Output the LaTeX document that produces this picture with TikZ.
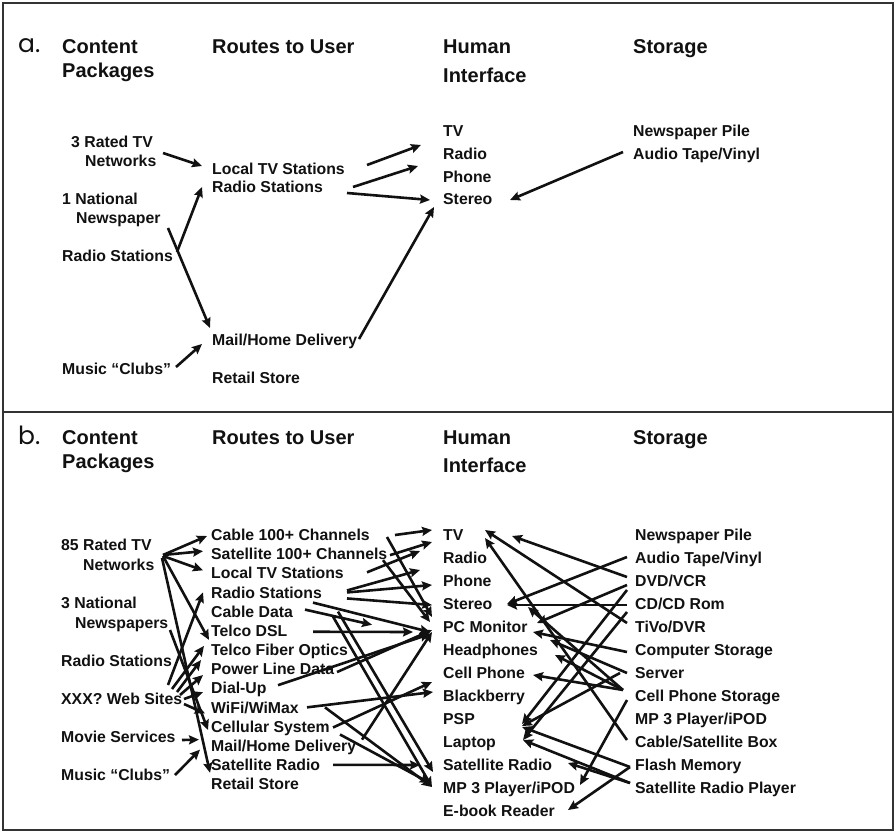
\documentclass[tikz,border=0pt]{standalone}
\usepackage{fontspec}
\setmainfont{Liberation Sans}
\newfontfamily\tagfont{Poppins}
\usetikzlibrary{arrows.meta}
\definecolor{ink}{HTML}{111111}
\definecolor{rule}{HTML}{333333}

% arrow between two node anchors, each with an offset
\newcommand\linkarrow[4]{\draw[arr] ([shift={#2}]#1.west) -- ([shift={#4}]#3.west);}

\begin{document}
\begin{tikzpicture}[x=1pt,y=-1pt,
  hd/.style={anchor=west, inner sep=0pt, text=ink,
    font=\bfseries\fontsize{20}{24}\selectfont, text height=14.3pt, text depth=0pt},
  it/.style={anchor=west, inner sep=0pt, text=ink,
    font=\bfseries\fontsize{15.8}{19}\selectfont, text height=11.3pt, text depth=0pt},
  tag/.style={anchor=base west, inner sep=0pt, text=ink,
    font=\tagfont\fontsize{25}{28}\selectfont},
  arr/.style={draw=ink, line width=2.6pt,
    -{Stealth[length=10pt,width=9pt,inset=1.5pt]}},
  panel/.style={draw=rule, line width=1.6pt}]

\useasboundingbox (0,0) rectangle (896,832);
\fill[white] (0,0) rectangle (896,832);

% panels
\draw[panel] (3,3) rectangle (893,830);
\draw[panel] (3,412) -- (893,412);

% ---------------- panel a ----------------
\node[tag] (tagA) at (18,53) {a.};
\node[hd] (aH1) at (62,46) {Content};
\node[hd] (aH1b) at (62,70) {Packages};
\node[hd] (aH2) at (212,46) {Routes to User};
\node[hd] (aH3) at (443,46) {Human};
\node[hd] (aH3b) at (443,75) {Interface};
\node[hd] (aH4) at (633,46) {Storage};

\node[it] (aNet1) at (71,142) {3 Rated TV};
\node[it] (aNet2) at (85,161) {Networks};
\node[it] (aNews1) at (62,199) {1 National};
\node[it] (aNews2) at (76,218) {Newspaper};
\node[it] (aRad) at (62,256) {Radio Stations};
\node[it] (aMus) at (62,369) {Music “Clubs”};

\node[it] (aLoc) at (212,169) {Local TV Stations};
\node[it] (aRadR) at (212,187) {Radio Stations};
\node[it] (aMail) at (212,340) {Mail/Home Delivery};
\node[it] (aRet) at (212,378) {Retail Store};

\node[it] (aTV) at (443,131) {TV};
\node[it] (aRadio) at (443,154) {Radio};
\node[it] (aPhone) at (443,177) {Phone};
\node[it] (aSter) at (443,199) {Stereo};

\node[it] (aPile) at (633,131) {Newspaper Pile};
\node[it] (aTape) at (633,154) {Audio Tape/Vinyl};

\linkarrow{aNet2}{(78,-8)}{aLoc}{(-10,-3)}
\linkarrow{aRad}{(115,-4)}{aRadR}{(-10,0)}
\linkarrow{aNews2}{(92,10)}{aMail}{(-2,-12)}
\linkarrow{aMus}{(114,-2)}{aMail}{(-10,4)}
\linkarrow{aLoc}{(155,-4)}{aRadio}{(-22,-9)}
\linkarrow{aRadR}{(141,0)}{aPhone}{(-25,-11)}
\linkarrow{aRadR}{(135,6)}{aSter}{(-13,1)}
\linkarrow{aMail}{(147,-1)}{aSter}{(-9,8)}
\linkarrow{aTape}{(-10,-2)}{aSter}{(67,1)}

% ---------------- panel b ----------------
\node[tag] (tagB) at (18,444) {b.};
\node[hd] (bH1) at (62,437) {Content};
\node[hd] (bH1b) at (62,461) {Packages};
\node[hd] (bH2) at (212,437) {Routes to User};
\node[hd] (bH3) at (443,437) {Human};
\node[hd] (bH3b) at (443,465) {Interface};
\node[hd] (bH4) at (633,437) {Storage};

\node[it] (bNet1) at (61,545) {85 Rated TV};
\node[it] (bNet2) at (83,565) {Networks};
\node[it] (bNews1) at (61,603) {3 National};
\node[it] (bNews2) at (75,623) {Newspapers};
\node[it] (bRad) at (61,661) {Radio Stations};
\node[it] (bWeb) at (61,699) {XXX? Web Sites};
\node[it] (bMov) at (61,737) {Movie Services};
\node[it] (bMus) at (61,775) {Music “Clubs”};

\foreach \t [count=\i] in {Cable 100+ Channels, Satellite 100+ Channels,
    Local TV Stations, Radio Stations, Cable Data, Telco DSL,
    Telco Fiber Optics, Power Line Data, Dial-Up, WiFi/WiMax,
    Cellular System, Mail/Home Delivery, Satellite Radio, Retail Store}
  \node[it] (bR\i) at (211,{535+19.15*(\i-1)}) {\t};

\foreach \t [count=\i] in {TV, Radio, Phone, Stereo, PC Monitor, Headphones,
    Cell Phone, Blackberry, PSP, Laptop, Satellite Radio,
    MP 3 Player/iPOD, E-book Reader}
  \node[it] (bI\i) at (443,{535+23*(\i-1)}) {\t};

\foreach \t [count=\i] in {Newspaper Pile, Audio Tape/Vinyl, DVD/VCR,
    CD/CD Rom, TiVo/DVR, Computer Storage, Server, Cell Phone Storage,
    MP 3 Player/iPOD, Cable/Satellite Box, Flash Memory,
    Satellite Radio Player}
  \node[it] (bS\i) at (635,{535+23*(\i-1)}) {\t};

% content packages to routes
\linkarrow{bNet2}{(80,-10)}{bR1}{(-4,1)}
\linkarrow{bNet2}{(80,-10)}{bR2}{(-8,-3)}
\linkarrow{bNet2}{(80,-9)}{bR3}{(-8,-3)}
\linkarrow{bNet2}{(80,-9)}{bR7}{(-2,-10)}
\linkarrow{bNet2}{(79,-7)}{bR13}{(-1,8)}
\linkarrow{bNews2}{(95,7)}{bR11}{(-3,3.5)}
\linkarrow{bRad}{(107,24)}{bR4}{(-8,0)}
\linkarrow{bRad}{(111,28)}{bR7}{(-7,-4)}
\linkarrow{bWeb}{(116,-7)}{bR8}{(-10,-9)}
\linkarrow{bWeb}{(119,-4)}{bR8}{(-8,6)}
\linkarrow{bWeb}{(123,0)}{bR9}{(-8,4)}
\linkarrow{bWeb}{(123,5)}{bR10}{(-6,6)}
\linkarrow{bMov}{(121,3)}{bR12}{(-12,-6)}
\linkarrow{bMus}{(114,0)}{bR12}{(-11,4)}

% routes to human interface
\linkarrow{bR1}{(184,0)}{bI1}{(-11,-5)}
\linkarrow{bR2}{(179,1)}{bI1}{(-11,7)}
\linkarrow{bR3}{(156,-1)}{bI2}{(-23,-7)}
\linkarrow{bR4}{(136,-2)}{bI3}{(-23,-11)}
\linkarrow{bR4}{(136,0)}{bI3}{(-11,4)}
\linkarrow{bR4}{(136,6)}{bI4}{(-11,1)}
\linkarrow{bR1}{(176,2)}{bI5}{(-11,-10)}
\linkarrow{bR2}{(172,6)}{bI5}{(-13,-5)}
\linkarrow{bR5}{(94,-2)}{bR6}{(161,-6)}
\linkarrow{bR5}{(102,-9)}{bI5}{(-13,5)}
\linkarrow{bR6}{(102,1)}{bI5}{(-30,5)}
\linkarrow{bR8}{(126,3)}{bI5}{(-11,3)}
\linkarrow{bR9}{(67,-3)}{bI5}{(-13,7)}
\linkarrow{bR5}{(122,5)}{bI12}{(-11,-1)}
\linkarrow{bR5}{(127,0)}{bI11}{(-10,7)}
\linkarrow{bR10}{(96,0)}{bI8}{(-10,-4)}
\linkarrow{bR11}{(122,1)}{bI8}{(-11,-14)}
\linkarrow{bR10}{(114,0)}{bI12}{(-11,-1)}
\linkarrow{bR11}{(129,8)}{bI12}{(-13,-5)}
\linkarrow{bR12}{(151,-6)}{bI5}{(-11,5)}
\linkarrow{bR13}{(122,0)}{bI11}{(-23,0)}

% storage to human interface
\linkarrow{bS3}{(-8,-4)}{bI1}{(69,1)}
\linkarrow{bS5}{(-8,-4)}{bI1}{(42,-5)}
\linkarrow{bS10}{(-8,-2)}{bI1}{(42,3)}
\linkarrow{bS2}{(-8,-1)}{bI4}{(64,0)}
\linkarrow{bS4}{(-8,1)}{bI4}{(64,1)}
\linkarrow{bS8}{(-12,-6)}{bI4}{(85,3)}
\linkarrow{bS3}{(-8,4)}{bI5}{(94,-4)}
\linkarrow{bS6}{(-8,2)}{bI5}{(90,5)}
\linkarrow{bS7}{(-8,0)}{bI5}{(107,13)}
\linkarrow{bS8}{(-12,-6)}{bI6}{(112,5)}
\linkarrow{bS8}{(-12,-6)}{bI7}{(90,2)}
\linkarrow{bS3}{(-8,9)}{bI10}{(79,-18)}
\linkarrow{bS4}{(-8,8)}{bI10}{(80,-2)}
\linkarrow{bS7}{(-15,0)}{bI10}{(79,-16)}
\linkarrow{bS11}{(-5,2)}{bI10}{(79,-15)}
\linkarrow{bS12}{(-5,-5)}{bI10}{(80,-2)}
\linkarrow{bS12}{(-5,-5)}{bI11}{(125,-2)}
\linkarrow{bS11}{(-5,2)}{bI13}{(125,-1)}
\linkarrow{bS8}{(-8,4)}{bI12}{(137,-3)}

\end{tikzpicture}
\end{document}
